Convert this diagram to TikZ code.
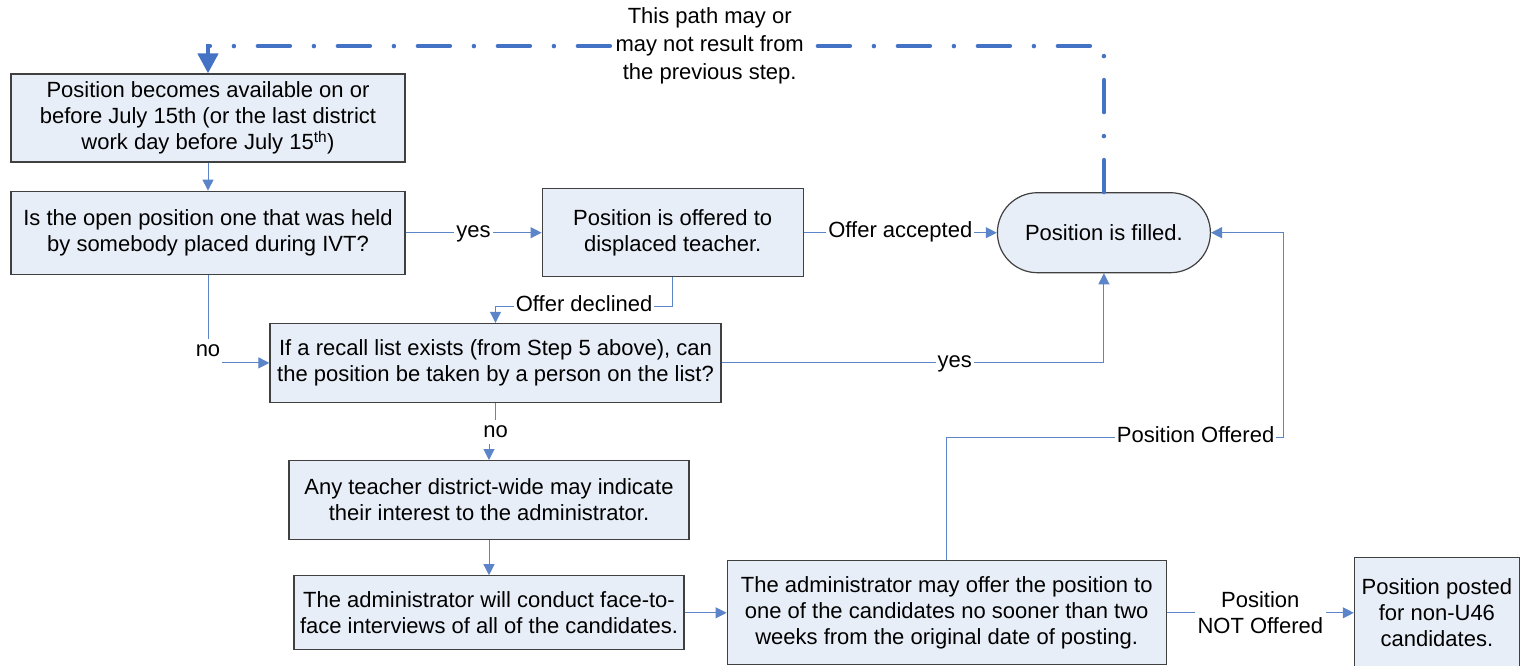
\documentclass[tikz,border=0pt]{standalone}
\usepackage{fontspec}
\setmainfont{Liberation Sans}
\usetikzlibrary{positioning,arrows.meta}
\definecolor{boxfill}{RGB}{232,238,247}
\definecolor{boxline}{RGB}{64,64,64}
\definecolor{linkblue}{RGB}{91,133,200}
\definecolor{loopblue}{RGB}{68,114,196}

\begin{document}
\begin{tikzpicture}[x=1pt,y=-1pt,
    font=\fontsize{22}{26}\selectfont,
    box/.style={draw=boxline, line width=1.2pt, fill=boxfill, align=center, inner sep=4pt},
    link/.style={draw=linkblue, line width=1pt, -{Triangle[length=11pt,width=11pt]}},
    lbl/.style={fill=white, inner sep=2pt, text height=15pt, text depth=5pt},
    lblm/.style={fill=white, inner sep=3pt, align=center},
    loopback/.style={draw=loopblue, line width=4.5pt, line cap=round,
      dash pattern=on 32pt off 24pt on 0pt off 24pt,
      -{Triangle[length=20pt,width=20pt]}}]
    \useasboundingbox (0,0) rectangle (1520,665);

    \node[box, minimum width=394pt, minimum height=88pt] (avail) at (208,118)
      {Position becomes available on or\\before July 15th (or the last district\\work day before July 15\textsuperscript{th})};
    \node[box, minimum width=394pt, minimum height=83pt, below=28pt of avail] (ivt)
      {Is the open position one that was held\\by somebody placed during IVT?};
    \node[box, minimum width=261pt, minimum height=88pt, right=136pt of ivt] (offer)
      {Position is offered to\\displaced teacher.};
    \node[box, rounded corners=40pt, minimum width=213pt, minimum height=80pt, right=193pt of offer] (filled)
      {Position is filled.};
    \node[box, minimum width=451pt, minimum height=79pt, below=48pt of ivt, xshift=287.5pt] (recall)
      {If a recall list exists (from Step 5 above), can\\the position be taken by a person on the list?};
    \node[box, minimum width=400pt, minimum height=79pt, below=57pt of recall, xshift=-6.5pt] (interest)
      {Any teacher district-wide may indicate\\their interest to the administrator.};
    \node[box, minimum width=390pt, minimum height=74pt, below=35pt of interest] (interview)
      {The administrator will conduct face-to-\\face interviews of all of the candidates.};
    \node[box, minimum width=439pt, minimum height=104pt, right=42pt of interview] (mayoffer)
      {The administrator may offer the position to\\one of the candidates no sooner than two\\weeks from the original date of posting.};
    \node[box, minimum width=165pt, minimum height=111pt, right=187pt of mayoffer] (posted)
      {Position posted\\for non-U46\\candidates.};
    \coordinate (turn) at (1283,437);

    \draw[link] (avail) -- (ivt);
    \draw[link] (ivt) -- node[lbl]{yes} (offer);
    \draw[link] (offer) -- node[lbl]{Offer accepted} (filled);
    \draw[link] (offer.south) -- ++(0,29) -| node[lbl,pos=0.25]{Offer declined} (recall.north);
    \draw[link] (ivt.south) |- node[lbl,pos=0.435]{no} (recall.west);
    \draw[link] (recall.east) -| node[lbl,pos=0.305]{yes} (filled.south);
    \draw[link] (recall.south) -- ++(0,29) node[lbl]{no} -| (interest.north);
    \draw[link] (interest) -- (interview);
    \draw[link] (interview) -- (mayoffer);
    \draw[link] (mayoffer) -- node[lblm]{Position\\NOT Offered} (posted);
    \draw[link] (mayoffer.north) |- node[lbl,pos=0.87]{Position Offered} (turn) |- (filled.east);
    \draw[loopback] (filled.north) -- ++(0,-146) -| node[lblm,pos=0.22,font=\fontsize{22}{28}\selectfont]{This path may or\\may not result from\\the previous step.} (avail.north);
\end{tikzpicture}
\end{document}
